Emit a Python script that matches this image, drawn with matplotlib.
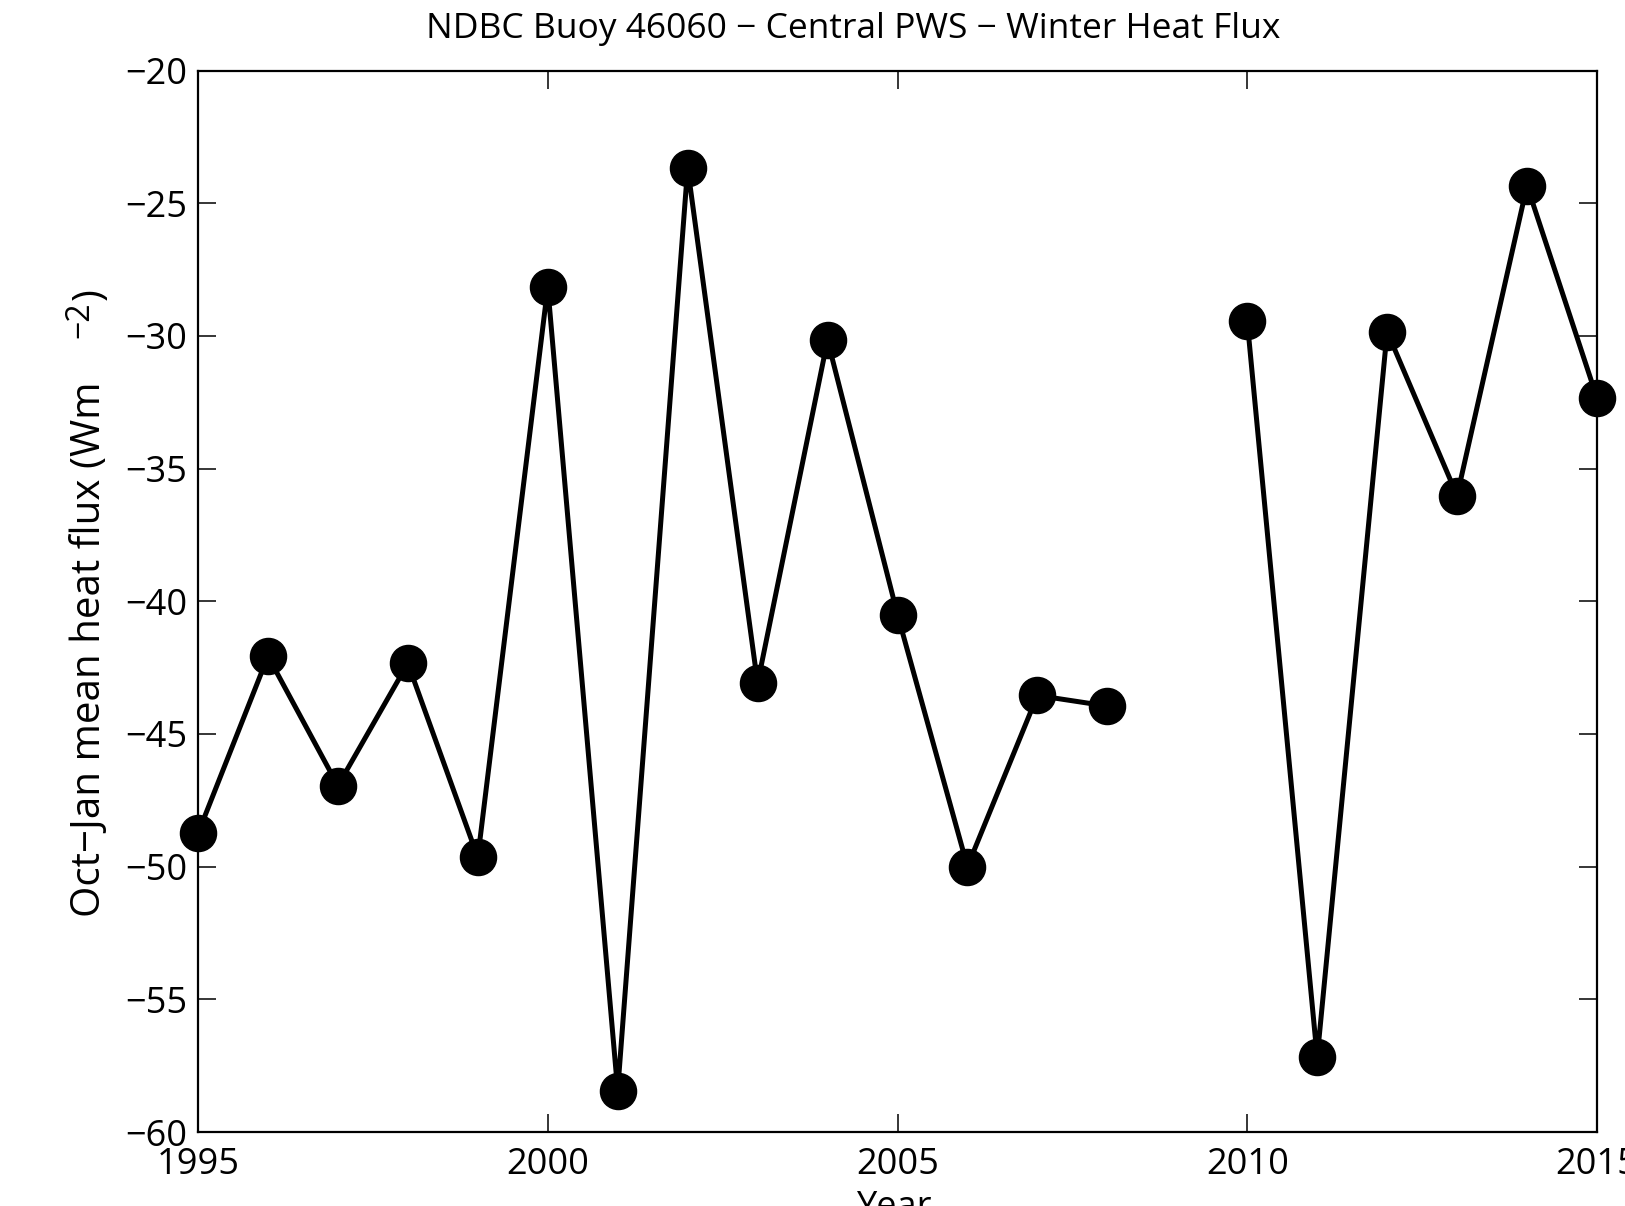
import matplotlib.pyplot as plt
import numpy as np

plt.rcParams['font.family'] = ['Open Sans', 'DejaVu Sans']

years = np.arange(1995, 2016)
# Oct-Jan mean heat flux (W m^-2); 2009 has no data
flux = np.array([
    -48.75, -42.07, -46.95, -42.34, -49.65, -28.16, -58.44, -23.67,
    -43.09, -30.16, -40.5, -50.0, -43.55, -43.95, np.nan,
    -29.45, -57.19, -29.84, -36.02, -24.34, -32.34,
])

xticks = [1995, 2000, 2005, 2010, 2015]
yticks = [-60, -55, -50, -45, -40, -35, -30, -25, -20]

W, H = 1625, 1206
fig = plt.figure(figsize=(W / 100, H / 100), dpi=100)
ax = fig.add_axes([198 / W, 1 - 1132 / H, (1597 - 198) / W, (1132 - 70.5) / H])

ax.plot(years, flux, color='black', linewidth=3.6, marker='o',
        markersize=26, markerfacecolor='black', markeredgecolor='black',
        clip_on=False, zorder=3)

ax.set_xlim(1995, 2015)
ax.set_ylim(-60, -20)
ax.set_xticks(xticks)
ax.set_yticks(yticks)
ax.tick_params(direction='in', length=13, width=1.1, top=True, right=True,
               labelsize=26)
ax.tick_params(axis='x', pad=11)
ax.tick_params(axis='y', pad=8)
for s in ax.spines.values():
    s.set_linewidth(1.6)

fig.text(853 / W, 1 - 29 / H, 'NDBC Buoy 46060 − Central PWS − Winter Heat Flux',
         ha='center', va='center', fontsize=25.5)

# y label drawn in pieces: main text, superscript, closing paren
fig.text(90 / W, 1 - 917 / H, 'Oct−Jan mean heat flux (Wm', rotation=90,
         ha='center', va='bottom', fontsize=29)
fig.text(80 / W, 1 - 338 / H, '−2', rotation=90,
         ha='center', va='bottom', fontsize=23)
fig.text(90 / W, 1 - 300 / H, ')', rotation=90,
         ha='center', va='bottom', fontsize=29)

fig.text(895 / W, 1 - 1190 / H, 'Year', ha='center', va='top', fontsize=26)

fig.savefig('out.png', dpi=100)
